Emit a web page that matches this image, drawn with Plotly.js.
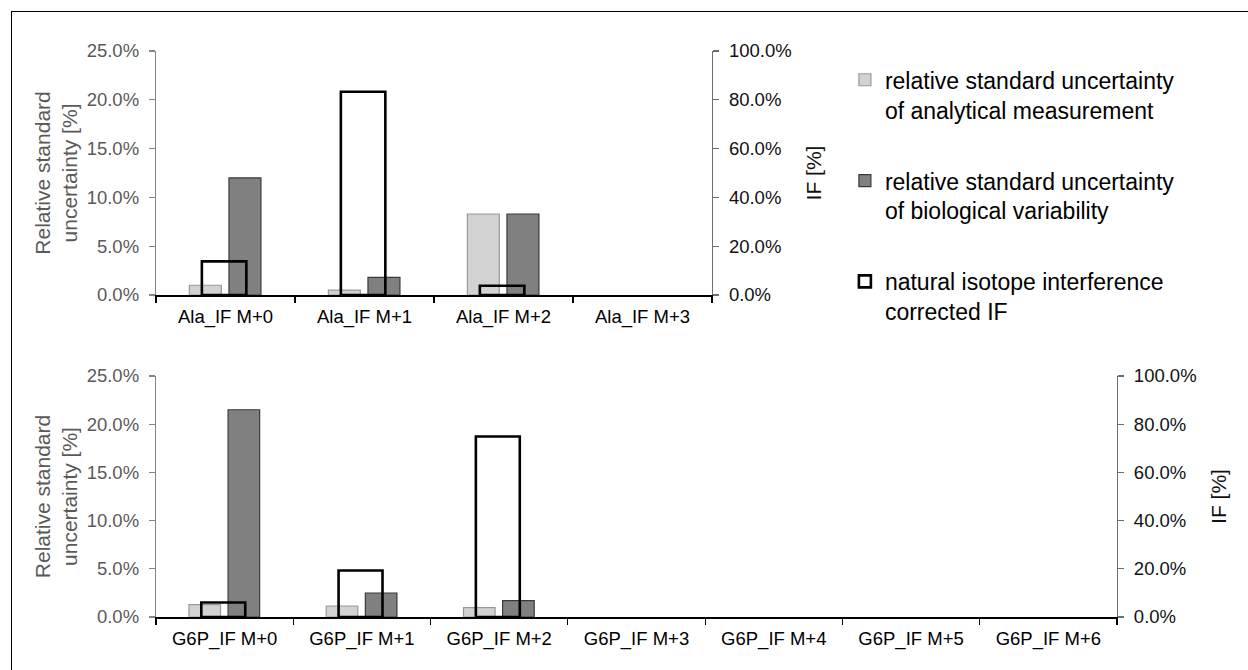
<!DOCTYPE html>
<html>
<head>
<meta charset="utf-8">
<script src="https://cdn.plot.ly/plotly-3.0.1.min.js"></script>
<style>
  html, body { margin: 0; padding: 0; background: #fff; }
  #chart { width: 1248px; height: 670px; position: relative; }
  #frame { position: absolute; left: 11px; top: 11px; right: -5px; bottom: -5px;
           border-left: 1.5px solid #000; border-top: 1.5px solid #000; pointer-events: none; }
</style>
</head>
<body>
<div id="chart"></div>
<div id="frame"></div>
<script>
// ---- data ----
const alaCategories = ['Ala_IF M+0', 'Ala_IF M+1', 'Ala_IF M+2', 'Ala_IF M+3'];
const alaAnalytical = [0.010, 0.005, 0.083, 0];
const alaBiological = [0.120, 0.018, 0.083, 0];
const alaIF = [0.138, 0.833, 0.038, 0];

const g6pCategories = ['G6P_IF M+0', 'G6P_IF M+1', 'G6P_IF M+2', 'G6P_IF M+3', 'G6P_IF M+4', 'G6P_IF M+5', 'G6P_IF M+6'];
const g6pAnalytical = [0.0129, 0.0114, 0.0098, 0, 0, 0, 0];
const g6pBiological = [0.215, 0.0249, 0.0170, 0, 0, 0, 0];
const g6pIF = [0.060, 0.193, 0.749, 0, 0, 0, 0];

const seriesNames = [
  'relative standard uncertainty<br>of analytical measurement',
  'relative standard uncertainty<br>of biological variability',
  'natural isotope interference<br>corrected IF'
];

// ---- styles ----
const FONT = '"Liberation Sans", Arial, sans-serif';
const lightStyle = { color: '#d2d2d2', line: { color: '#9a9a9a', width: 1.2 } };
const darkStyle = { color: '#808080', line: { color: '#3a3a3a', width: 1.2 } };
const ifStyle = { color: 'rgba(0,0,0,0)', line: { color: '#000', width: 2.6 } };

// zero-valued bars are not drawn (as in the original chart)
function hideZero(arr) { return arr.map(v => (v === 0 ? null : v)); }

function mk(x, y, xa, ya, style, width, offset, name, show, group) {
  return {
    type: 'bar', x: x, y: hideZero(y), xaxis: xa, yaxis: ya,
    marker: style, width: width, offset: offset,
    name: name, showlegend: show, legendgroup: group, hoverinfo: 'skip'
  };
}

const traces = [
  mk(alaCategories, alaAnalytical, 'x', 'y', lightStyle, 0.23, -0.26, seriesNames[0], true, 'g1'),
  mk(alaCategories, alaBiological, 'x', 'y', darkStyle, 0.23, 0.025, seriesNames[1], true, 'g2'),
  mk(alaCategories, alaIF, 'x', 'y2', ifStyle, 0.32, -0.17, seriesNames[2], true, 'g3'),
  mk(g6pCategories, g6pAnalytical, 'x2', 'y3', lightStyle, 0.23, -0.26, seriesNames[0], false, 'g1'),
  mk(g6pCategories, g6pBiological, 'x2', 'y3', darkStyle, 0.23, 0.025, seriesNames[1], false, 'g2'),
  mk(g6pCategories, g6pIF, 'x2', 'y4', ifStyle, 0.32, -0.17, seriesNames[2], false, 'g3')
];

const xBase = {
  type: 'category', showline: true, linecolor: '#000', linewidth: 1.5,
  ticks: 'outside', tickson: 'boundaries', ticklen: 6, tickwidth: 1.2, tickcolor: '#000',
  showgrid: false, zeroline: false, fixedrange: true,
  tickfont: { family: FONT, size: 18.5, color: '#000' }, ticklabelstandoff: 4
};
const yLeftBase = {
  range: [0, 0.25], dtick: 0.05, tick0: 0, tickformat: '.1%',
  showline: true, linecolor: '#868686', linewidth: 1.2,
  ticks: 'outside', ticklen: 6, tickwidth: 1.2, tickcolor: '#868686',
  showgrid: false, zeroline: false, fixedrange: true,
  tickfont: { family: FONT, size: 18.5, color: '#595959' }, ticklabelstandoff: 6,
  title: { text: 'Relative standard<br>uncertainty [%]', font: { family: FONT, size: 21, color: '#595959' }, standoff: 3 }
};
const yRightBase = {
  side: 'right', range: [0, 1], dtick: 0.2, tick0: 0, tickformat: '.1%',
  showline: true, linecolor: '#6e6e6e', linewidth: 1.2,
  ticks: 'outside', ticklen: 6, tickwidth: 1.2, tickcolor: '#6e6e6e',
  showgrid: false, zeroline: false, fixedrange: true,
  tickfont: { family: FONT, size: 18.5, color: '#111' }, ticklabelstandoff: 6,
  title: { text: 'IF [%]', font: { family: FONT, size: 21, color: '#111' }, standoff: 15 }
};

const layout = {
  width: 1248, height: 670,
  margin: { l: 0, r: 0, t: 0, b: 0 },
  paper_bgcolor: '#fff', plot_bgcolor: 'rgba(0,0,0,0)',
  barmode: 'overlay',
  font: { family: FONT, size: 18.5, color: '#000' },
  xaxis: Object.assign({}, xBase, { domain: [0.125, 0.5705], anchor: 'y', range: [-0.5, 3.5] }),
  yaxis: Object.assign({}, yLeftBase, { domain: [0.5597, 0.9239], anchor: 'x' }),
  yaxis2: Object.assign({}, yRightBase, { overlaying: 'y', anchor: 'x' }),
  xaxis2: Object.assign({}, xBase, { domain: [0.125, 0.895], anchor: 'y3', range: [-0.5, 6.5] }),
  yaxis3: Object.assign({}, yLeftBase, { domain: [0.0791, 0.4388], anchor: 'x2' }),
  yaxis4: Object.assign({}, yRightBase, { overlaying: 'y3', anchor: 'x2' }),
  legend: {
    x: 0.677, y: 0.913, xanchor: 'left', yanchor: 'top',
    font: { family: FONT, size: 23, color: '#000' },
    bgcolor: 'rgba(0,0,0,0)', tracegroupgap: 38, valign: 'top',
    itemclick: false, itemdoubleclick: false
  },
  showlegend: true
};

Plotly.newPlot('chart', traces, layout, { displayModeBar: false, staticPlot: true });
</script>
</body>
</html>
